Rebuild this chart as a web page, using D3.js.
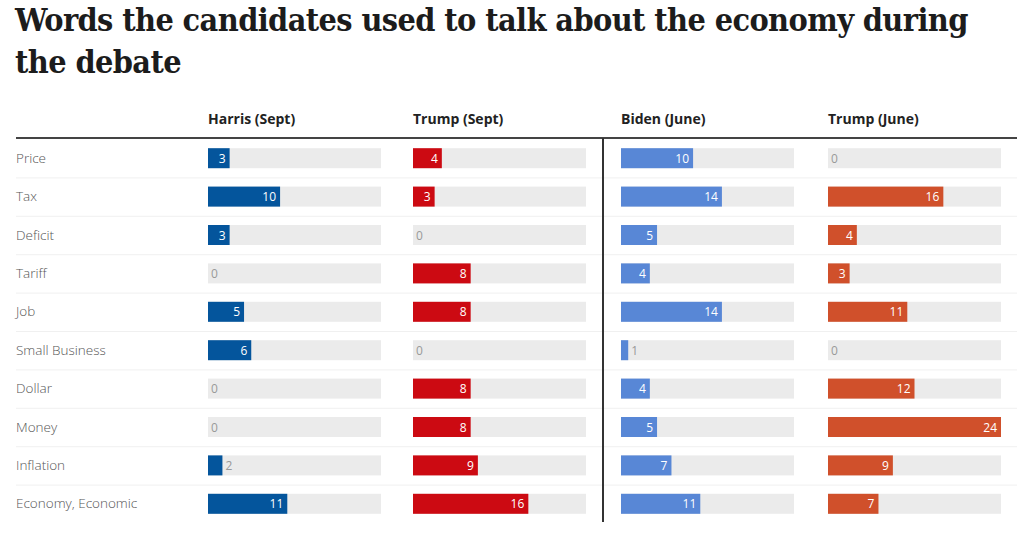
<!DOCTYPE html>
<html>
<head>
<meta charset="utf-8">
<script src="https://cdn.jsdelivr.net/npm/d3@7"></script>
<style>
  body { margin: 0; background: #fff; }
</style>
</head>
<body>
<div id="chart"></div>
<script>
const words = ['Price', 'Tax', 'Deficit', 'Tariff', 'Job', 'Small Business', 'Dollar', 'Money', 'Inflation', 'Economy, Economic'];
const speakers = ['Harris (Sept)', 'Trump (Sept)', 'Biden (June)', 'Trump (June)'];
const harrisSept = [3, 10, 3, 0, 5, 6, 0, 0, 2, 11];
const trumpSept = [4, 3, 0, 8, 8, 0, 8, 8, 9, 16];
const bidenJune = [10, 14, 5, 4, 14, 1, 4, 5, 7, 11];
const trumpJune = [0, 16, 4, 3, 11, 0, 12, 24, 9, 7];
const colors = ['#04559c', '#cc0a12', '#5887d6', '#d0502b'];

const series = [harrisSept, trumpSept, bidenJune, trumpJune];
const colX = [208, 413, 621, 828];
const trackW = 173;

const width = 1024, height = 534;
const svg = d3.select('#chart').append('svg')
    .attr('width', width)
    .attr('height', height);

// title
const title = svg.append('g')
    .style('font-family', '"DejaVu Serif Condensed", "DejaVu Serif", serif')
    .style('font-stretch', 'condensed')
    .style('font-weight', 'bold')
    .style('letter-spacing', '-0.6px')
    .style('fill', '#1c1c1c');
const t1 = title.append('text').attr('x', 15).attr('y', 31)
    .style('font-size', '32px')
    .text('Words the candidates used to talk about the economy during');
const scale = 953 / t1.node().getComputedTextLength();
const fs = Math.min(33, 32 * scale);
t1.style('font-size', fs + 'px');
if (t1.node().getComputedTextLength() > 955) t1.attr('textLength', 953).attr('lengthAdjust', 'spacingAndGlyphs');
title.append('text').attr('x', 15).attr('y', 73)
    .style('font-size', fs + 'px')
    .text('the debate');

const y = d3.scaleBand()
    .domain(words)
    .range([139, 523])
    .paddingInner(0);

const x = d3.scaleLinear().domain([0, 24]).range([0, trackW]);

// headers
svg.selectAll('.head')
    .data(speakers)
    .enter().append('text')
    .attr('x', (d, i) => colX[i])
    .attr('y', 124)
    .style('font-family', '"Open Sans", sans-serif')
    .style('font-weight', 'bold')
    .style('font-size', '14px')
    .style('fill', '#222')
    .text(d => d);

// row separators
svg.selectAll('.sep')
    .data(words.slice(1))
    .enter().append('line')
    .attr('x1', 16).attr('x2', 1017)
    .attr('y1', d => y(d) + 0.5).attr('y2', d => y(d) + 0.5)
    .attr('stroke', '#f0f0f0');

// category labels
svg.selectAll('.cat')
    .data(words)
    .enter().append('text')
    .attr('x', 16)
    .attr('y', d => y(d) + y.bandwidth() / 2 + 4.5)
    .style('font-family', '"Open Sans", sans-serif')
    .style('font-weight', 300)
    .style('font-size', '13.5px')
    .style('fill', '#555')
    .text(d => d);

series.forEach((vals, i) => {
    const g = svg.append('g').attr('transform', 'translate(' + colX[i] + ',0)');
    const rows = g.selectAll('g')
        .data(vals)
        .enter().append('g')
        .attr('transform', (d, j) => 'translate(0,' + (y(words[j]) + y.bandwidth() / 2 - 10) + ')');

    rows.append('rect')
        .attr('width', trackW)
        .attr('height', 20)
        .attr('fill', '#ebebeb');

    rows.append('rect')
        .attr('width', d => x(d))
        .attr('height', 20)
        .attr('fill', colors[i]);

    rows.append('text')
        .attr('x', d => d >= 3 ? x(d) - 4 : x(d) + 3)
        .attr('y', 14.5)
        .attr('text-anchor', d => d >= 3 ? 'end' : 'start')
        .style('font-family', '"Open Sans", sans-serif')
        .style('font-size', '12px')
        .style('fill', d => d >= 3 ? '#fff' : '#999')
        .text(d => d);
});

// header rule and divider
svg.append('line')
    .attr('x1', 16).attr('x2', 1017)
    .attr('y1', 138).attr('y2', 138)
    .attr('stroke', '#444').attr('stroke-width', 2);

svg.append('line')
    .attr('x1', 603).attr('x2', 603)
    .attr('y1', 138).attr('y2', 522)
    .attr('stroke', '#333').attr('stroke-width', 2);
</script>
</body>
</html>
